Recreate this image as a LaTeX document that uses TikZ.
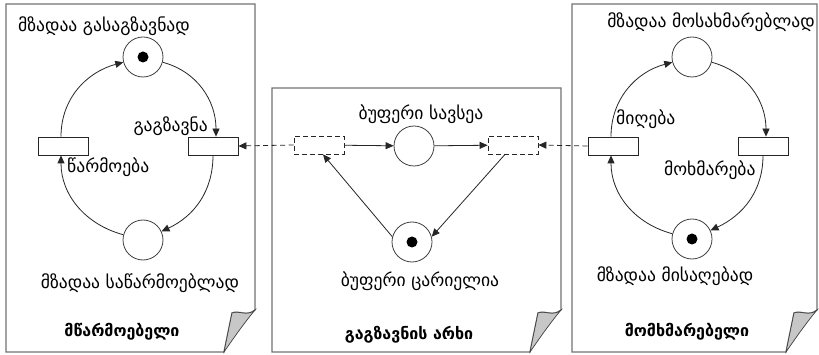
\documentclass[tikz,border=0pt]{standalone}
\usepackage{fontspec}
\setmainfont{DejaVu Sans}
\usetikzlibrary{arrows.meta}
\tikzset{
  paperline/.style={draw=black!55,line width=1.3pt,fill=white},
  curlfill/.style={draw=black!75,line width=0.7pt,fill=black!22},
  place/.style={circle,draw=black!75,line width=0.8pt,minimum size=40pt,inner sep=0pt,fill=white},
  trans/.style={rectangle,draw=black!85,line width=0.8pt,minimum width=50pt,minimum height=18pt,inner sep=0pt,fill=white},
  dtrans/.style={trans,dashed,dash pattern=on 5pt off 3pt},
  arc/.style={draw=black!85,line width=0.8pt,-{Triangle[length=8pt,width=7pt]}},
  darc/.style={arc,dash pattern=on 5pt off 3.5pt},
  lbl/.style={font=\fontsize{17.6}{19}\selectfont,inner sep=0pt},
  ttl/.style={font=\fontsize{16}{18}\selectfont\bfseries,inner sep=0pt},
}
\newcommand{\mypaper}[3]{%
  \path[paperline] (#1,#2) -- (#3,#2) -- (#3,310)
    .. controls (#3-8,317) and (#3-16,310) .. (#3-23,313)
    -- (#3-31,352) -- (#1,352) -- cycle;
  \path[curlfill] (#3,310) .. controls (#3-8,317) and (#3-16,310) .. (#3-23,313)
    -- (#3-31,352) .. controls (#3-20,336) and (#3-10,322) .. (#3,310) -- cycle;
}
\begin{document}
\begin{tikzpicture}[x=1pt,y=-1pt]
\useasboundingbox (0,0) rectangle (819,355);
\fill[white] (0,0) rectangle (819,355);
\mypaper{6}{4}{255}
\mypaper{272}{88}{561}
\mypaper{572}{4}{817}

% producer
\node[place] (p1) at (143,57) {};
\fill (p1) circle (5.5pt);
\node[trans] (t1) at (63,146) {};
\node[trans] (t2) at (213,146) {};
\node[place] (p2) at (143,240) {};
\draw[arc] ([xshift=-2pt]t1.north) to[out=90,in=195] (p1);
\draw[arc] (p1) to[out=-15,in=90] ([xshift=3pt]t2.north);
\draw[arc] (t2.south) to[out=-90,in=25] (p2);
\draw[arc] (p2) to[out=165,in=-90] ([xshift=-2pt]t1.south);
\node[lbl] (l1) at (104,26) {მზადაა გასაგზავნად};
\node[lbl,anchor=east] (l2) at (208,126) {გაგზავნა};
\node[lbl,anchor=west] (l3) at (67,167) {წარმოება};
\node[lbl] (l4) at (140,283) {მზადაა საწარმოებლად};
\node[ttl] (l5) at (122,332) {მწარმოებელი};

% channel
\node[dtrans] (t3) at (319,145) {};
\node[place] (p3) at (414,146) {};
\node[dtrans] (t4) at (513,145) {};
\node[place] (p4) at (412,242) {};
\fill (p4) circle (5.5pt);
\draw[arc] (t3) -- (p3);
\draw[arc] (p3) -- (t4);
\draw[arc] ([xshift=-8pt]t4.south) -- (p4.15);
\draw[arc] (p4.165) -- ([xshift=4pt]t3.south);
\node[lbl] (l6) at (421,114) {ბუფერი სავსეა};
\node[lbl] (l7) at (420,281) {ბუფერი ცარიელია};
\node[ttl] (l8) at (409,335) {გაგზავნის არხი};

% consumer
\node[place] (p5) at (692,57) {};
\node[trans] (t5) at (613,146) {};
\node[trans] (t6) at (763,146) {};
\node[place] (p6) at (692,239) {};
\fill (p6) circle (5.5pt);
\draw[arc] ([xshift=-2pt]t5.north) to[out=90,in=195] (p5);
\draw[arc] (p5) to[out=-15,in=90] ([xshift=3pt]t6.north);
\draw[arc] (t6.south) to[out=-90,in=25] (p6);
\draw[arc] (p6) to[out=165,in=-90] ([xshift=-2pt]t5.south);
\node[lbl] (l9) at (711,22) {მზადაა მოსახმარებლად};
\node[lbl,anchor=west] (l10) at (616,119) {მიღება};
\node[lbl,anchor=west] (l11) at (664,170) {მოხმარება};
\node[lbl] (l12) at (675,276) {მზადაა მისაღებად};
\node[ttl] (l13) at (687,332) {მომხმარებელი};

% channel links
\draw[darc] (t3.west) -- (t2.east);
\draw[darc] (t5.west) -- (t4.east);
\end{tikzpicture}
\end{document}
